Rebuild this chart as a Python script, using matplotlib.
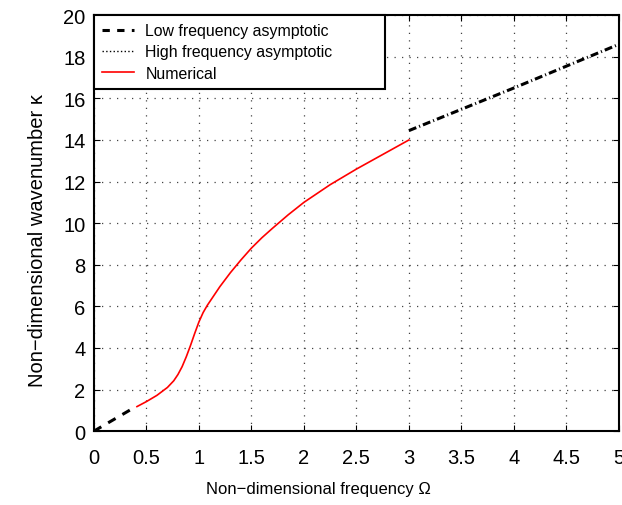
import numpy as np
import matplotlib.pyplot as plt
from matplotlib.lines import Line2D

plt.rcParams['font.family'] = ['Liberation Sans', 'DejaVu Sans']

# Low frequency asymptote
omega_low = [0.0, 0.4]
kappa_low = [0.0, 1.18]

# High frequency asymptote
omega_high = [3.0, 4.0, 5.0]
kappa_high = [14.45, 16.5, 18.6]

# Numerical solution
omega_num = [0.41, 0.5, 0.6, 0.7, 0.76, 0.8, 0.84, 0.88, 0.92, 0.96, 1.0, 1.04, 1.08,
             1.14, 1.2, 1.3, 1.4, 1.5, 1.6, 1.7, 1.85, 2.0, 2.25, 2.5, 2.75, 3.0]
kappa_num = [1.18, 1.42, 1.72, 2.1, 2.42, 2.72, 3.1, 3.58, 4.12, 4.7, 5.25, 5.7, 6.05,
             6.5, 6.95, 7.62, 8.23, 8.8, 9.3, 9.75, 10.4, 11.0, 11.85, 12.6, 13.3, 14.0]

fig = plt.figure(figsize=(6.22, 5.06), dpi=100)
ax = fig.add_axes([0.151, 0.146, 0.844, 0.822])

ax.plot(omega_low, kappa_low, color='k', linestyle='--', linewidth=2.2, dashes=(2.8, 2.6))
ax.plot(omega_high, kappa_high, color='k', linestyle='-.', linewidth=2.2,
        dashes=(2.6, 1.0, 0.35, 1.0))
ax.plot(omega_num, kappa_num, color='red', linewidth=1.2)

ax.set_xlim(0, 5)
ax.set_ylim(0, 20)
ax.set_xticks(np.arange(0, 5.01, 0.5))
ax.set_xticklabels(['0', '0.5', '1', '1.5', '2', '2.5', '3', '3.5', '4', '4.5', '5'])
ax.set_yticks(np.arange(0, 21, 2))
ax.tick_params(direction='in', labelsize=14.5, top=True, right=True, length=4)
ax.tick_params(axis='x', pad=12)
ax.tick_params(axis='y', pad=6)
ax.grid(True, linestyle=(0, (1, 5)), color='#444444', linewidth=0.9)
for s in ax.spines.values():
    s.set_linewidth(1.5)

ax.set_xlabel('Non\u2212dimensional frequency \u03a9', fontsize=12)
ax.xaxis.set_label_coords(0.427, -0.12)
ax.set_ylabel('Non\u2212dimensional wavenumber \u03ba', fontsize=14.5)
ax.yaxis.set_label_coords(-0.09, 0.4615)

handles = [Line2D([], [], color='k', linestyle='--', linewidth=2.2, dashes=(2.4, 2.4)),
           Line2D([], [], color='k', linestyle=':', linewidth=1),
           Line2D([], [], color='red', linewidth=1.2)]
labels = ['Low frequency asymptotic', 'High frequency asymptotic', 'Numerical']
leg = ax.legend(handles, labels, loc='upper left', bbox_to_anchor=(0, 1, 0.554, 0),
                mode='expand', borderaxespad=0, fancybox=False,
                edgecolor='k', framealpha=1, fontsize=11.4, handlelength=2.0,
                handletextpad=0.75, borderpad=0.5, labelspacing=0.4)
leg.get_frame().set_linewidth(1.5)

fig.savefig('out.png', dpi=100)
